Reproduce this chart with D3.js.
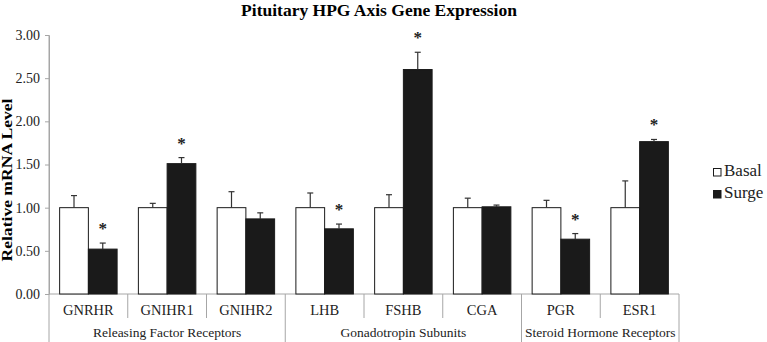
<!DOCTYPE html>
<html><head><meta charset="utf-8">
<script src="https://cdn.jsdelivr.net/npm/d3@7"></script>
<style>body{margin:0;background:#fff}svg{display:block}</style>
</head><body>
<svg id="chart" width="767" height="342"></svg>
<script>
const categories = ["GNRHR","GNIHR1","GNIHR2","LHB","FSHB","CGA","PGR","ESR1"];
const groups = ["Releasing Factor Receptors","Gonadotropin Subunits","Steroid Hormone Receptors"];
const groupSizes = [3,3,2];
const basal = [1.00,1.00,1.00,1.00,1.00,1.00,1.00,1.00];
const basalErr = [0.14,0.05,0.185,0.17,0.15,0.11,0.085,0.31];
const surge = [0.52,1.51,0.87,0.755,2.60,1.01,0.635,1.765];
const surgeErr = [0.07,0.07,0.07,0.055,0.20,0.02,0.065,0.025];
const significant = [true,true,false,true,true,false,true,true];
const yTicks = [0,0.5,1,1.5,2,2.5,3];
const seriesNames = ["Basal","Surge"];

(function(){
const svg = d3.select("#chart");
const mLeft = 49, mRight = 679, mTop = 35, mBottom = 294;
const serif = "'Liberation Serif','Times New Roman',serif";
const axisColor = "#a6a6a6";

const x = d3.scaleBand().domain(categories).range([mLeft,mRight]).paddingInner(0).paddingOuter(0);
const inner = d3.scaleBand().domain(seriesNames).range([0,x.bandwidth()]).paddingInner(0).paddingOuter(0.37);
const y = d3.scaleLinear().domain([0,3]).range([mBottom,mTop]);

// title
svg.append("text").attr("x",379).attr("y",16).attr("text-anchor","middle")
  .attr("font-family",serif).attr("font-weight","bold").attr("font-size",17.5)
  .text("Pituitary HPG Axis Gene Expression");

// y axis
const yAxis = d3.axisLeft(y).tickValues(yTicks).tickFormat(d3.format(".2f")).tickSize(4).tickSizeOuter(0);
const gy = svg.append("g").attr("transform",`translate(${mLeft},0)`).call(yAxis);
gy.select(".domain").attr("stroke",axisColor);
gy.selectAll(".tick line").attr("stroke",axisColor);
gy.selectAll(".tick text").attr("font-family",serif).attr("font-size",14).attr("fill","#222").attr("x",-9);
svg.append("line").attr("x1",mLeft).attr("x2",mLeft).attr("y1",mTop).attr("y2",342).attr("stroke",axisColor);

svg.append("text").attr("transform",`translate(12,180) rotate(-90)`).attr("text-anchor","middle")
  .attr("font-family",serif).attr("font-weight","bold").attr("font-size",15)
  .attr("textLength",163).attr("lengthAdjust","spacingAndGlyphs")
  .text("Relative mRNA Level");

// x baseline
svg.append("line").attr("x1",mLeft).attr("x2",mRight).attr("y1",mBottom).attr("y2",mBottom).attr("stroke",axisColor);

// category separators
let idx = 0; const groupBounds = [0];
groupSizes.forEach(s=>{idx+=s; groupBounds.push(idx);});
categories.forEach((c,i)=>{
  if(i===0) return;
  const xx = x(c);
  const isGroup = groupBounds.includes(i);
  svg.append("line").attr("x1",xx).attr("x2",xx).attr("y1",mBottom).attr("y2",isGroup?342:318).attr("stroke",axisColor);
});
svg.append("line").attr("x1",mRight).attr("x2",mRight).attr("y1",mBottom).attr("y2",342).attr("stroke",axisColor);

// category labels
svg.selectAll(".cat").data(categories).enter().append("text")
  .attr("x",d=>x(d)+x.bandwidth()/2).attr("y",315).attr("text-anchor","middle")
  .attr("font-family",serif).attr("font-size",14.5).attr("fill","#222").text(d=>d);

// group labels
groups.forEach((g,i)=>{
  const x0 = x(categories[groupBounds[i]]);
  const x1 = groupBounds[i+1] < categories.length ? x(categories[groupBounds[i+1]]) : mRight;
  svg.append("text").attr("x",(x0+x1)/2).attr("y",337).attr("text-anchor","middle")
    .attr("font-family",serif).attr("font-size",13.5).attr("fill","#222").text(g);
});

// bars
const rows = categories.map((c,i)=>({c,i}));
const bw = inner.bandwidth();
function drawSeries(vals, errs, name, fill){
  const g = svg.append("g");
  g.selectAll("rect").data(rows).enter().append("rect")
    .attr("x",d=>x(d.c)+inner(name)).attr("y",d=>y(vals[d.i]))
    .attr("width",bw).attr("height",d=>y(0)-y(vals[d.i]))
    .attr("fill",fill).attr("stroke","#1a1a1a").attr("stroke-width",1);
  g.selectAll(".eb").data(rows).enter().append("line")
    .attr("x1",d=>x(d.c)+inner(name)+bw/2).attr("x2",d=>x(d.c)+inner(name)+bw/2)
    .attr("y1",d=>y(vals[d.i])).attr("y2",d=>y(vals[d.i]+errs[d.i]))
    .attr("stroke","#333").attr("stroke-width",1.2);
  g.selectAll(".cap").data(rows).enter().append("line")
    .attr("x1",d=>x(d.c)+inner(name)+bw/2-3).attr("x2",d=>x(d.c)+inner(name)+bw/2+3)
    .attr("y1",d=>y(vals[d.i]+errs[d.i])).attr("y2",d=>y(vals[d.i]+errs[d.i]))
    .attr("stroke","#333").attr("stroke-width",1.2);
}
drawSeries(basal,basalErr,"Basal","#ffffff");
drawSeries(surge,surgeErr,"Surge","#1a1a1a");

// significance stars
svg.selectAll(".star").data(rows.filter(d=>significant[d.i])).enter().append("text")
  .attr("x",d=>x(d.c)+inner("Surge")+bw/2).attr("y",d=>y(surge[d.i]+surgeErr[d.i])-9)
  .attr("text-anchor","middle").attr("font-family",serif).attr("font-weight","bold").attr("font-size",17)
  .attr("fill","#222").text("*");

// legend
const legend = svg.append("g");
seriesNames.forEach((n,i)=>{
  const base = 176 + i*22;
  legend.append("rect").attr("x",713.5).attr("y",base-7.5).attr("width",7.5).attr("height",7.5)
    .attr("fill",i===0?"#fff":"#1a1a1a").attr("stroke","#1a1a1a");
  legend.append("text").attr("x",724).attr("y",base).attr("font-family",serif).attr("font-size",17)
    .attr("fill","#222").text(n);
});
})();
</script>
</body></html>
